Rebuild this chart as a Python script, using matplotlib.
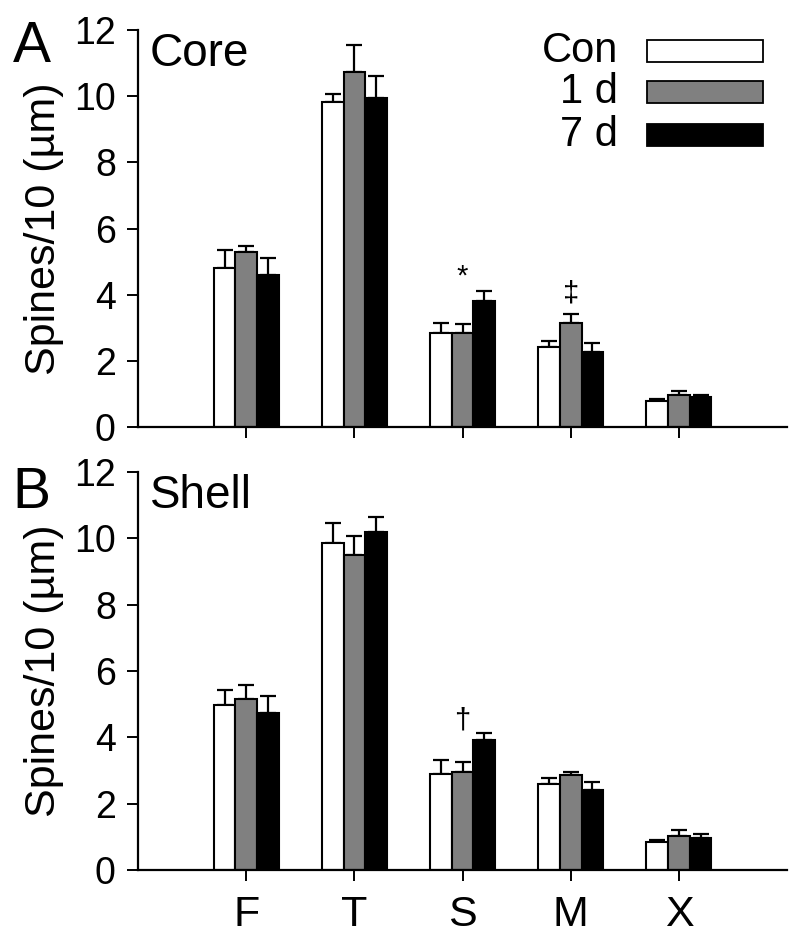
import numpy as np
import matplotlib.pyplot as plt
from matplotlib.patches import Rectangle

plt.rcParams['font.family'] = ['Liberation Sans', 'DejaVu Sans']

regions = ['F', 'T', 'S', 'M', 'X']
groups = ['Con', '1 d', '7 d']
colors = ['white', '#808080', 'black']

# Core (panel A): means and upper SEM
core_con = [4.80, 9.83, 2.84, 2.43, 0.78]
core_1d = [5.29, 10.73, 2.84, 3.13, 0.98]
core_7d = [4.59, 9.93, 3.82, 2.26, 0.91]
core_con_err = [0.55, 0.25, 0.31, 0.17, 0.08]
core_1d_err = [0.18, 0.81, 0.27, 0.28, 0.10]
core_7d_err = [0.51, 0.67, 0.30, 0.29, 0.05]

# Shell (panel B)
shell_con = [4.97, 9.85, 2.91, 2.59, 0.85]
shell_1d = [5.15, 9.50, 2.96, 2.88, 1.02]
shell_7d = [4.74, 10.20, 3.92, 2.41, 0.98]
shell_con_err = [0.46, 0.60, 0.41, 0.20, 0.07]
shell_1d_err = [0.43, 0.57, 0.29, 0.07, 0.18]
shell_7d_err = [0.51, 0.43, 0.22, 0.23, 0.12]

# significance marks: (region, group, symbol, y)
core_marks = [('S', '1 d', '*', 4.55), ('M', '1 d', '\u2021', 4.05)]
shell_marks = [('S', '1 d', '\u2020', 4.5)]

fig = plt.figure(figsize=(8, 9.46), dpi=100)
axA = fig.add_axes([0.1725, 0.5486, 0.8113, 0.4197])
axB = fig.add_axes([0.1725, 0.0803, 0.8113, 0.4207])

x = np.arange(1, len(regions) + 1)
w = 0.2


def draw_panel(ax, means, errs, marks, title, show_xlabels):
    for i, (m, e) in enumerate(zip(means, errs)):
        pos = x + (i - 1) * w
        ax.errorbar(pos, m, yerr=[np.zeros(len(m)), e], fmt='none',
                    ecolor='black', elinewidth=1.6, capsize=6, capthick=1.6,
                    zorder=1)
        ax.bar(pos, m, width=w, color=colors[i], edgecolor='black',
               linewidth=1.5, zorder=2)
    for reg, grp, sym, yv in marks:
        xi = regions.index(reg) + 1 + (groups.index(grp) - 1) * w
        ax.text(xi, yv, sym, ha='center', va='center', fontsize=21)

    ax.set_xlim(0, 6)
    ax.set_ylim(0, 12)
    ax.set_yticks(range(0, 13, 2))
    ax.set_xticks(x)
    if show_xlabels:
        ax.set_xticklabels(regions, fontsize=31)
    else:
        ax.set_xticklabels([])
    ax.tick_params(axis='y', labelsize=27, length=8, width=1.4, pad=8)
    ax.tick_params(axis='x', length=8, width=1.4, pad=10)
    for s in ['top', 'right']:
        ax.spines[s].set_visible(False)
    for s in ['left', 'bottom']:
        ax.spines[s].set_linewidth(1.6)
    ax.set_ylabel('Spines/10 (\u00b5m)', fontsize=31, va='center')
    ax.yaxis.set_label_coords(-0.145, 0.5)
    ax.text(0.018, 0.91, title, transform=ax.transAxes, fontsize=33,
            va='baseline', ha='left')


draw_panel(axA, [core_con, core_1d, core_7d],
           [core_con_err, core_1d_err, core_7d_err], core_marks, 'Core', False)
draw_panel(axB, [shell_con, shell_1d, shell_7d],
           [shell_con_err, shell_1d_err, shell_7d_err], shell_marks, 'Shell', True)

# legend drawn by hand so labels are right aligned
row_y = [0.948, 0.843, 0.736]
for lab, col, yy in zip(groups, colors, row_y):
    axA.add_patch(Rectangle((0.784, yy - 0.028), 0.179, 0.056,
                            transform=axA.transAxes, facecolor=col,
                            edgecolor='black', linewidth=1.3, clip_on=False))
    axA.text(0.74, yy, lab, transform=axA.transAxes, fontsize=30,
             ha='right', va='center')

fig.text(0.016, 1 - 62 / 946, 'A', fontsize=41, va='baseline')
fig.text(0.016, 1 - 508 / 946, 'B', fontsize=41, va='baseline')

fig.savefig('out.png', dpi=100)
